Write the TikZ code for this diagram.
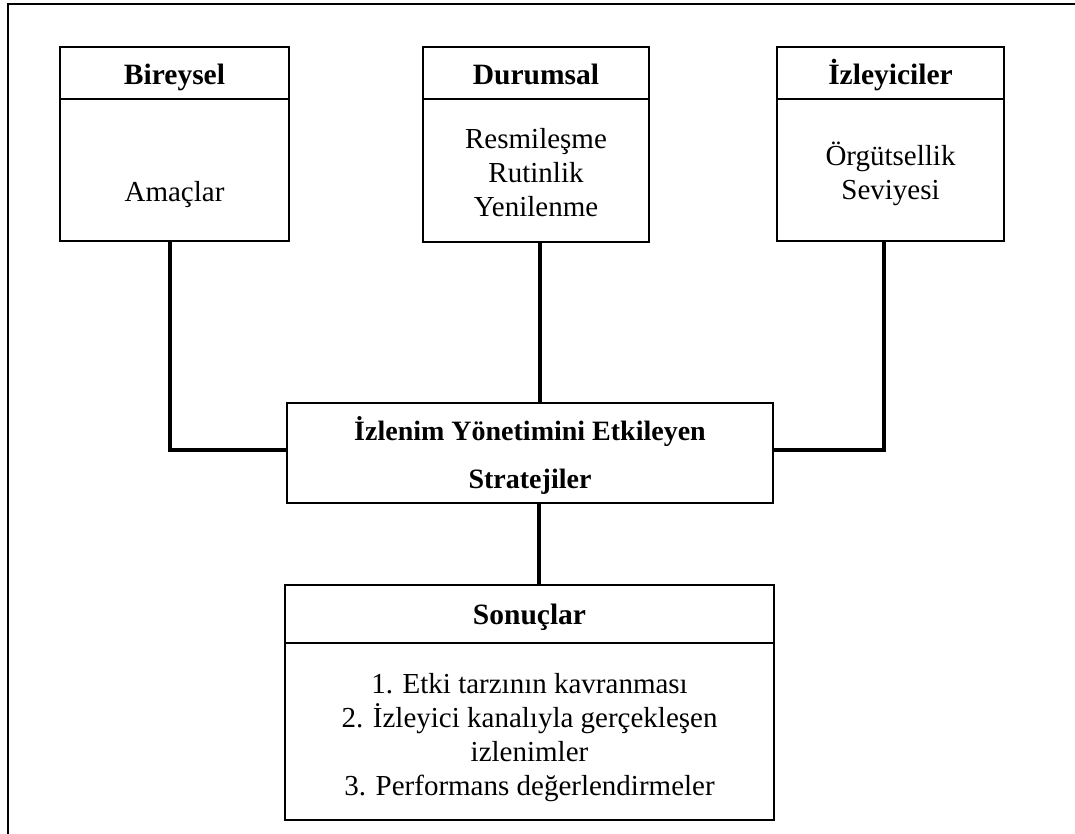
\documentclass[tikz,border=0pt]{standalone}
\usepackage{fontspec}
\setmainfont{Liberation Serif}
\begin{document}
\begin{tikzpicture}[x=1pt,y=-1pt,
  box/.style={draw=black,line width=2.8pt,rectangle,inner sep=0pt},
  bodytxt/.style={anchor=base,inner sep=0pt,align=center,font=\fontsize{29}{34}\selectfont},
  hdrtxt/.style={anchor=base,inner sep=0pt,align=center,font=\fontsize{29.5}{34}\selectfont\bfseries},
  midtxt/.style={anchor=base,inner sep=0pt,align=center,font=\fontsize{28}{48}\selectfont\bfseries},
  conn/.style={draw=black,line width=3.6pt},
  frame/.style={draw=black,line width=2.2pt}]
\useasboundingbox (0,0) rectangle (1075,834);
% outer frame (only top and left edges visible)
\draw[frame] (8,840) -- (8,4) -- (1080,4);
% top boxes
\node[box,minimum width=229pt,minimum height=142pt] (b1b) at (174.5,170) {};
\node[box,minimum width=229pt,minimum height=52pt] (b1h) at (174.5,73) {};
\node[hdrtxt] (t1h) at (174.5,85) {Bireysel};
\node[bodytxt] (t1b) at (174.5,202) {Amaçlar};
\node[box,minimum width=226pt,minimum height=143pt] (b2b) at (536,170.5) {};
\node[box,minimum width=226pt,minimum height=52pt] (b2h) at (536,73) {};
\node[hdrtxt] (t2h) at (536,85) {Durumsal};
\node[bodytxt] (t2b) at (536,217) {Resmileşme\\Rutinlik\\Yenilenme};
\node[box,minimum width=227pt,minimum height=142pt] (b3b) at (890.5,170) {};
\node[box,minimum width=227pt,minimum height=52pt] (b3h) at (890.5,73) {};
\node[hdrtxt] (t3h) at (890.5,85) {İzleyiciler};
\node[bodytxt] (t3b) at (890.5,200) {Örgütsellik\\Seviyesi};
% middle box
\node[box,minimum width=486pt,minimum height=100pt] (mid) at (530,453) {};
\node[midtxt] (tmid) at (530,488) {İzlenim Yönetimini Etkileyen\\Stratejiler};
% result box
\node[box,minimum width=489pt,minimum height=177pt] (resb) at (529.5,731.5) {};
\node[box,minimum width=489pt,minimum height=58pt] (resh) at (529.5,614) {};
\node[hdrtxt] (tresh) at (529.5,624) {Sonuçlar};
\node[bodytxt] (tresb) at (529.5,795) {1. Etki tarzının kavranması\\2. İzleyici kanalıyla gerçekleşen\\izlenimler\\3. Performans değerlendirmeler};
% connectors
\draw[conn] ([xshift=-4.5pt]b1b.south) |- ([yshift=3pt]mid.west);
\draw[conn] ([xshift=4pt]b2b.south) -- ([xshift=10pt]mid.north);
\draw[conn] ([xshift=-6.5pt]b3b.south) |- ([yshift=3pt]mid.east);
\draw[conn] ([xshift=9pt]mid.south) -- ([xshift=9.5pt]resh.north);
\end{tikzpicture}
\end{document}
